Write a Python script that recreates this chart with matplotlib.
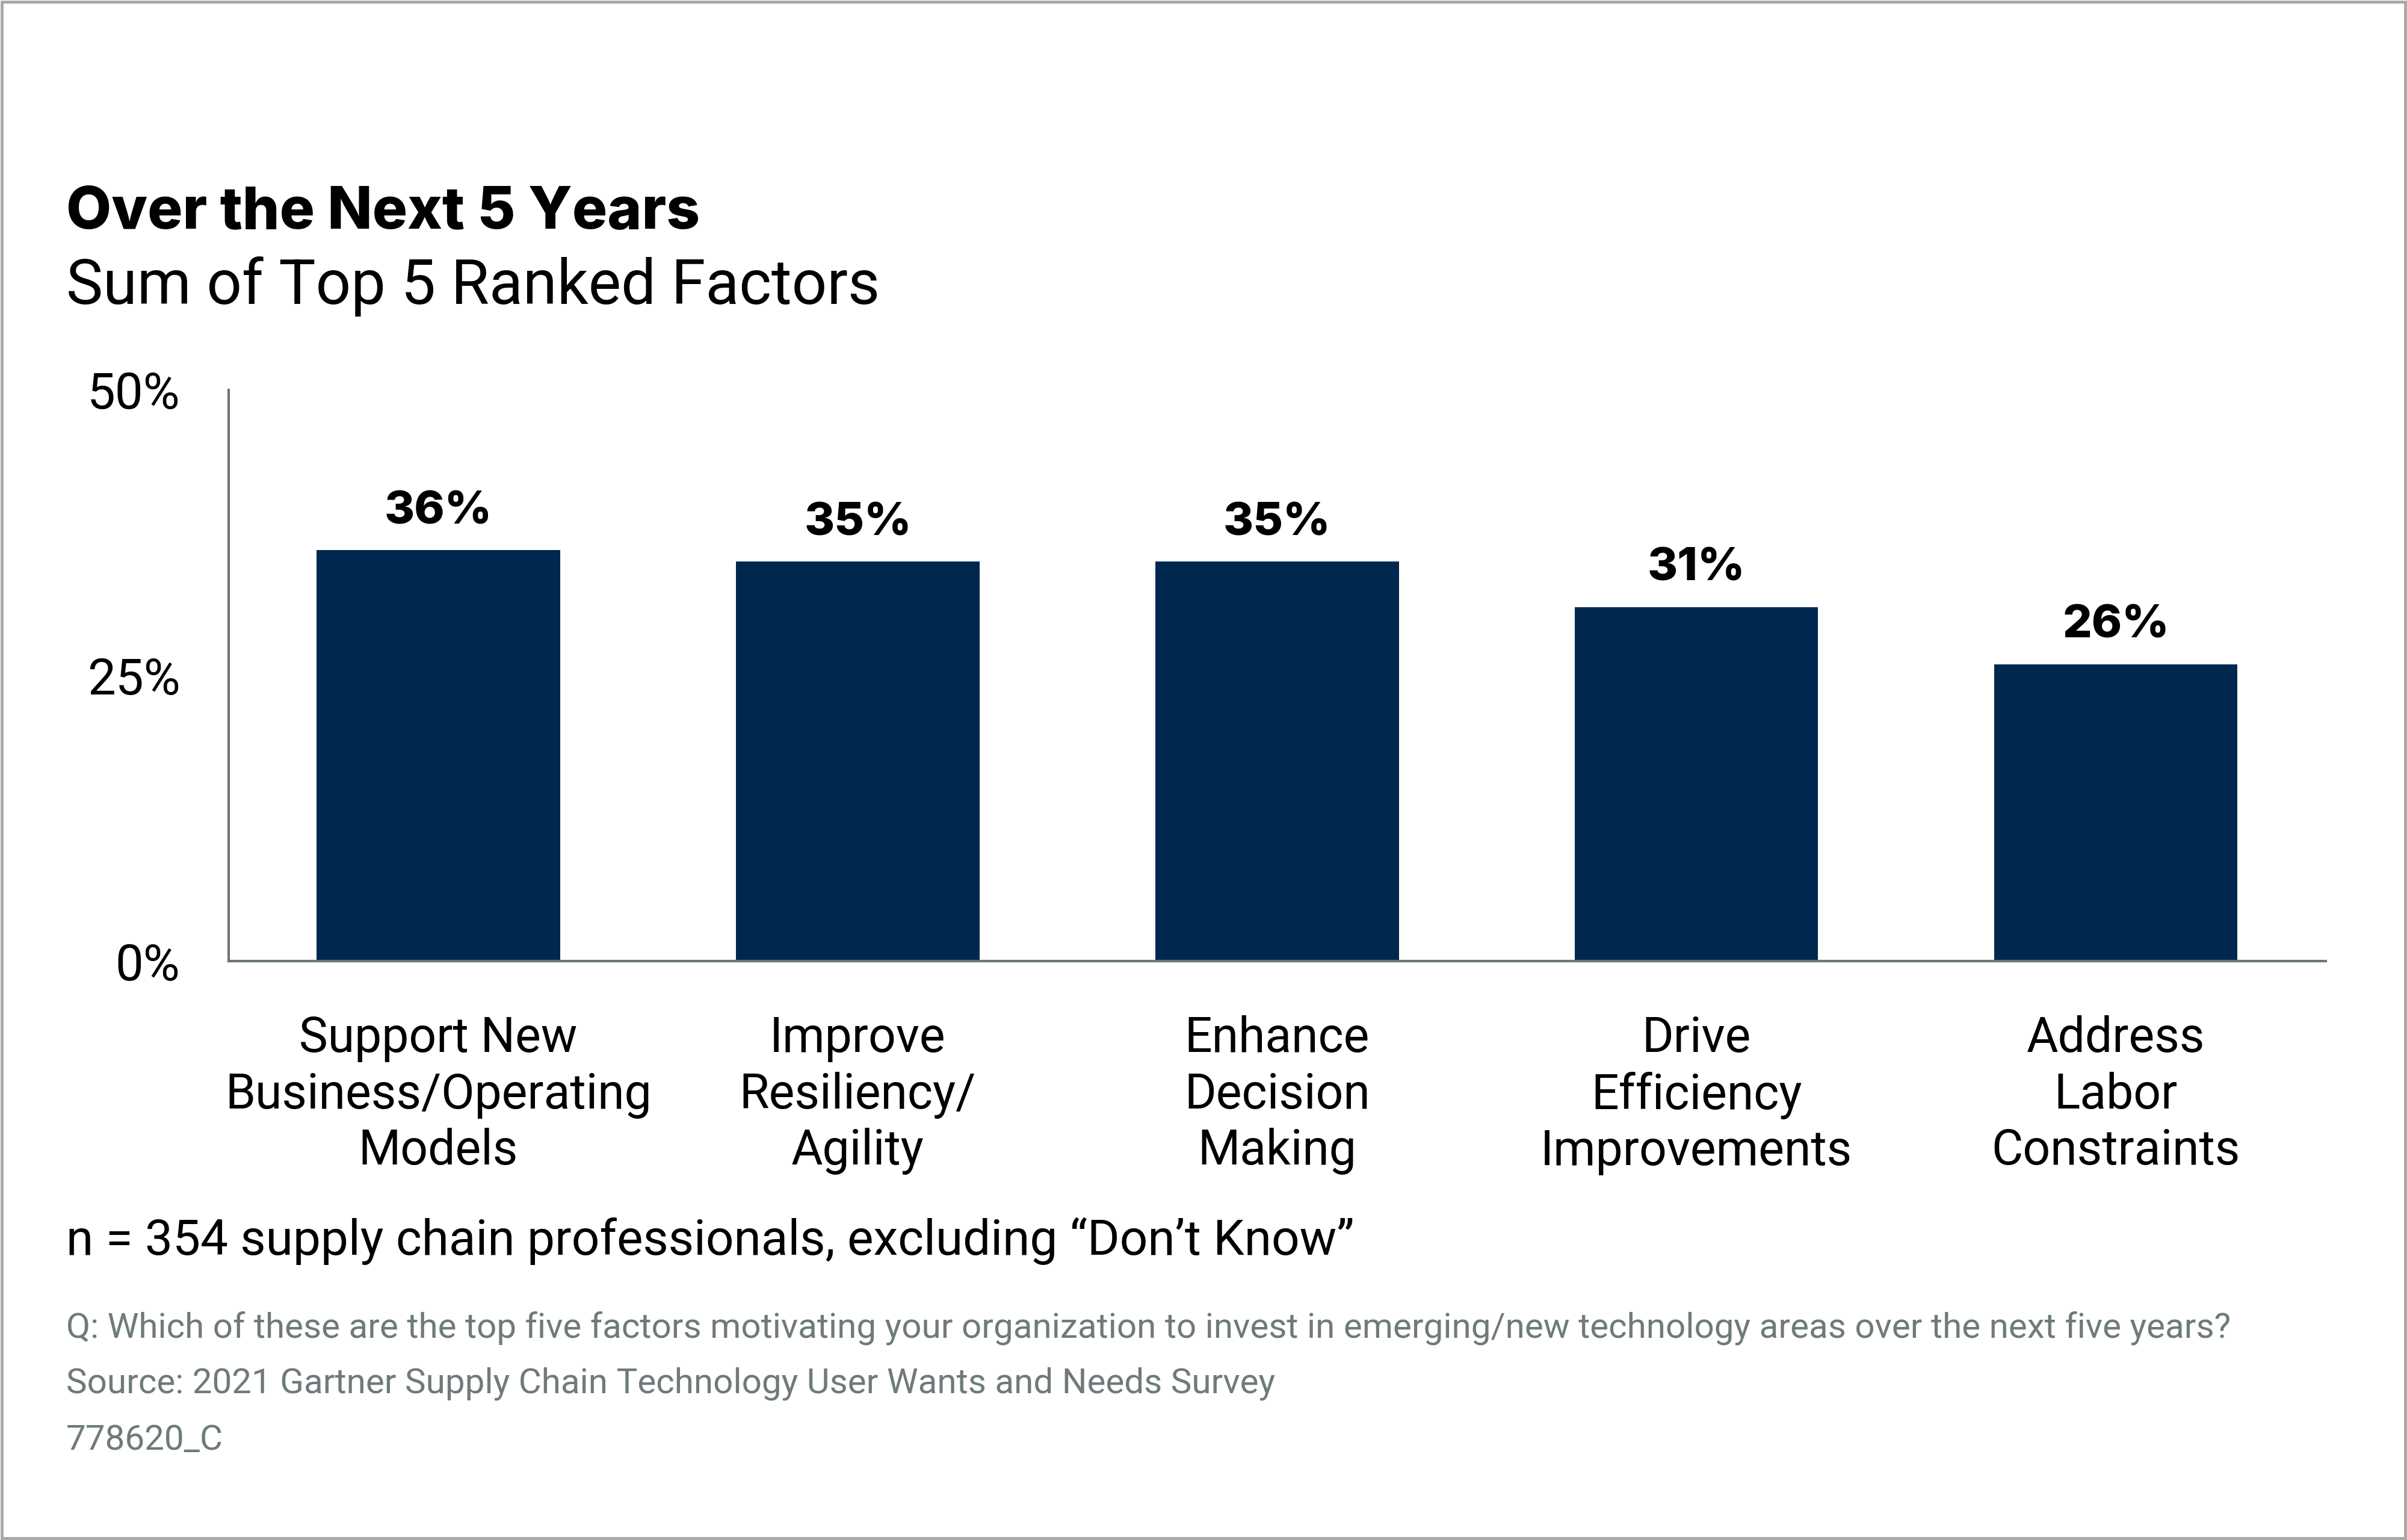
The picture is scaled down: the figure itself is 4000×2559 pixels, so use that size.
import matplotlib
matplotlib.use("Agg")
import matplotlib.pyplot as plt
from matplotlib.patches import Rectangle

categories = ["Support New\nBusiness/Operating\nModels",
              "Improve\nResiliency/\nAgility",
              "Enhance\nDecision\nMaking",
              "Drive\nEfficiency\nImprovements",
              "Address\nLabor\nConstraints"]
values = [36, 35, 35, 31, 26]
yticks = [0, 25, 50]
ytick_labels = ["0%", "25%", "50%"]

title = "Over the Next 5 Years"
subtitle = "Sum of Top 5 Ranked Factors"
note = "n = 354 supply chain professionals, excluding \u201cDon\u2019t Know\u201d"
question = "Q: Which of these are the top five factors motivating your organization to invest in emerging/new technology areas over the next five years?"
source = "Source: 2021 Gartner Supply Chain Technology User Wants and Needs Survey"
code = "778620_C"

BAR = "#00284f"
AXIS = "#6b767c"
GREY = "#6f7a7b"
FONT = ["Roboto", "DejaVu Sans"]
BOLD = ["Inter", "Roboto", "DejaVu Sans"]

fig = plt.figure(figsize=(40, 25.59), dpi=100)
fig.patch.set_facecolor("white")

fig.patches.append(Rectangle((0.0008, 0.0012), 0.9984, 0.9976, transform=fig.transFigure,
                             fill=False, edgecolor="#a8a8a8", linewidth=3.5))

ax = fig.add_axes([0.0950, 0.3759, 0.9662 - 0.0950, 0.7468 - 0.3759])
x = list(range(len(categories)))
ax.bar(x, values, width=0.58, color=BAR, zorder=2)
ax.set_xlim(-0.5, len(categories) - 0.5)
ax.set_ylim(0, 50)

for s in ["top", "right"]:
    ax.spines[s].set_visible(False)
for s in ["left", "bottom"]:
    ax.spines[s].set_color(AXIS)
    ax.spines[s].set_linewidth(3)

ax.set_yticks(yticks)
ax.set_yticklabels(ytick_labels, family=FONT, fontsize=60, color="black")
ax.tick_params(axis="y", length=0, pad=58)
ax.set_xticks(x)
ax.set_xticklabels(categories, family=FONT, fontsize=58, color="black", linespacing=1.25)
ax.tick_params(axis="x", length=0, pad=65)

for xi, v in zip(x, values):
    ax.text(xi, v + 2.3, f"{v}%", ha="center", va="baseline", family=BOLD,
            fontweight="heavy", fontsize=55, color="black")

fig.text(0.0274, 0.8514, title, family=BOLD, fontweight="heavy", fontsize=70,
         va="baseline", ha="left", color="black")
fig.text(0.0274, 0.8026, subtitle, family=FONT, fontsize=74,
         va="baseline", ha="left", color="black")
fig.text(0.0274, 0.1854, note, family=FONT, fontsize=59,
         va="baseline", ha="left", color="black")
fig.text(0.0274, 0.1316, question, family=FONT, fontsize=42,
         va="baseline", ha="left", color=GREY)
fig.text(0.0274, 0.0957, source, family=FONT, fontsize=42,
         va="baseline", ha="left", color=GREY)
fig.text(0.0274, 0.0588, code, family=FONT, fontsize=42,
         va="baseline", ha="left", color=GREY)

fig.savefig("out.png", dpi=100, facecolor="white")
